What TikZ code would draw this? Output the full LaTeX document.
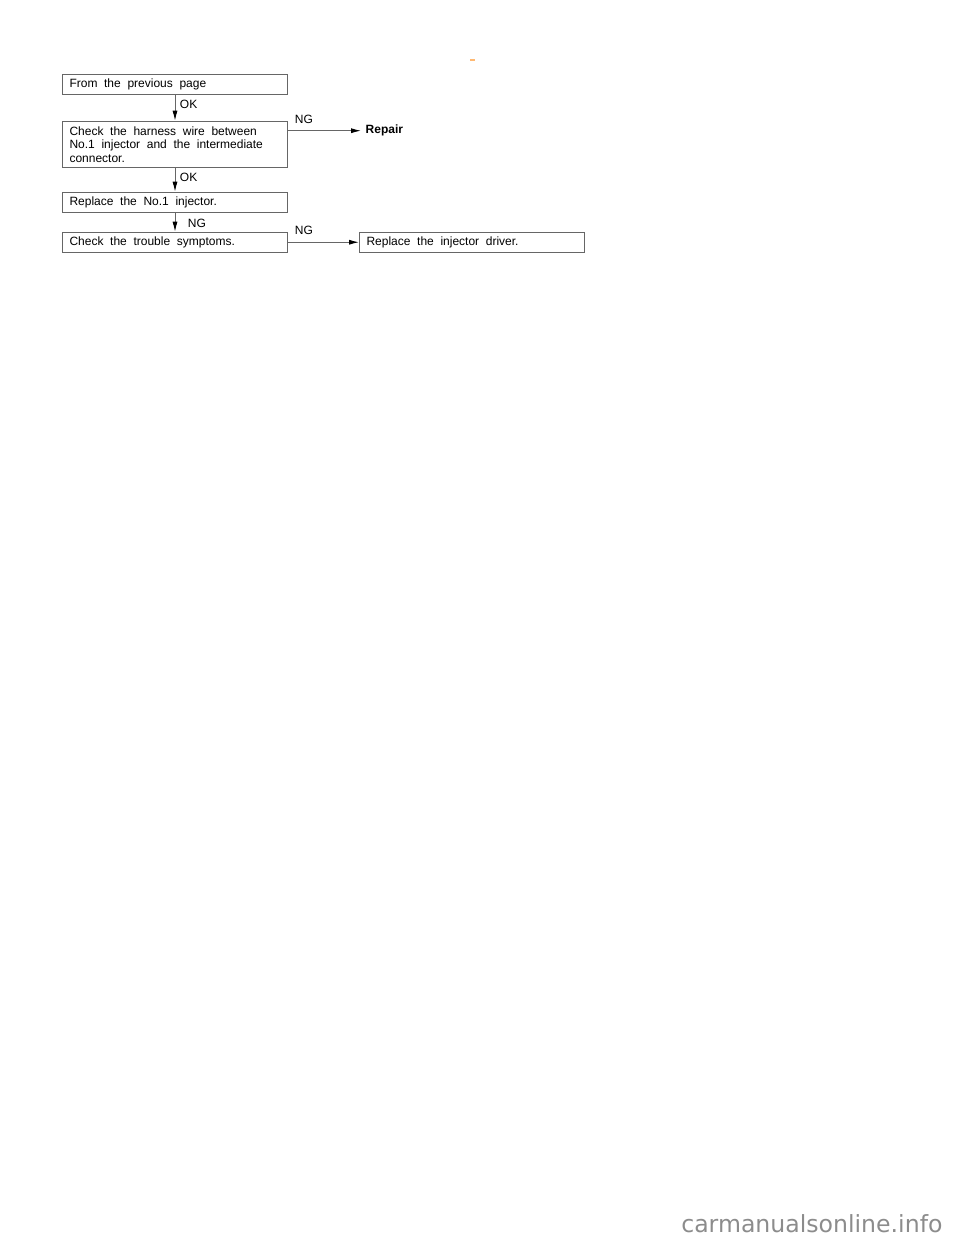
\documentclass[tikz,border=0pt]{standalone}
\usepackage{fontspec}
\setmainfont{Liberation Sans}
\newfontfamily\markfont{DejaVu Sans}
\usepackage{tikz}
\usetikzlibrary{positioning,arrows.meta}
\newcommand\widespace{\spaceskip=5pt plus 1pt minus 1pt\relax}

\begin{document}
\begin{tikzpicture}[x=0.75pt, y=-0.75pt,
    every node/.style={font=\fontsize{9pt}{10.3pt}\selectfont,
      execute at begin node=\widespace},
    box/.style={draw=black!60, line width=0.75pt, anchor=north west,
      minimum width=168.75pt, text width=158.25pt, inner xsep=5.25pt,
      align=left},
    flow/.style={draw=black!60, line width=0.75pt,
      -{Latex[length=7.5pt,width=3.8pt,black]}}]

  % page size
  \useasboundingbox (0,0) rectangle (960,1242);

  % small orange mark at the top
  \fill[orange!55] (470,58.5) rectangle (475,60.5);

  % steps of the check
  \node[box, minimum height=14.5pt] (prev) at (62,74) {From the previous page};
  \node[box, minimum height=35pt] (harness) at (62,120.7)
    {Check the harness wire between\\No.1 injector and the intermediate\\connector.};
  \node[box, minimum height=15pt] (injector) at (62,191.7) {Replace the No.1 injector.};
  \node[box, minimum height=15pt] (symptom) at (62,231.7) {Check the trouble symptoms.};
  \node[box, minimum height=15pt] (driver) at (359,231.7) {Replace the injector driver.};
  \node[anchor=west, font=\fontsize{9pt}{10.3pt}\selectfont\bfseries] (repair) at (361,130.7) {Repair};

  % arrows down
  \draw[flow] (prev) -- node[right, pos=0.35] {OK} (harness);
  \draw[flow] (harness) -- node[right, pos=0.38] {OK} (injector);
  \draw[flow] (injector) -- node[right, pos=0.58, xshift=6pt] {NG} (symptom);

  % arrows to the right
  \draw[flow] (harness.east |- repair) -- node[pos=0, anchor=south west, xshift=1.5pt, yshift=1.8pt] {NG} (repair);
  \draw[flow] (symptom) -- node[pos=0, anchor=south west, xshift=1.5pt, yshift=1.8pt] {NG} (driver);

  % site mark at the bottom
  \node[anchor=base west, inner sep=0pt, text=black!45,
    font=\markfont\fontsize{17.7pt}{20pt}\selectfont] (site) at (681,1232) {carmanualsonline.info};

\end{tikzpicture}
\end{document}
